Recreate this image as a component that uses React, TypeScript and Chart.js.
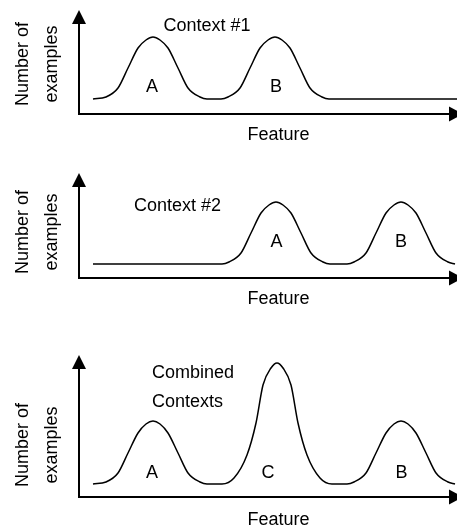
import React, { useEffect, useRef } from "react";
import { Chart, registerables } from "chart.js";

Chart.register(...registerables);

// ---- Data (feature units from the y-axis, "number of examples" units above the x-axis) ----
const FEATURE_MAX = 378;

// Panel 1: Context #1
const ctx1X = [14, 27, 39, 49, 59, 67, 74, 81, 89, 99, 109, 121, 128, 142, 149, 161, 171, 181, 189, 196, 203, 211, 221, 231, 243, 250, 378];
const ctx1Y = [15, 17, 26, 46, 66, 74, 77, 74, 66, 46, 26, 17, 15, 15, 17, 26, 46, 66, 74, 77, 74, 66, 46, 26, 17, 15, 15];

// Panel 2: Context #2
const ctx2X = [14, 143, 150, 162, 172, 182, 190, 197, 204, 212, 222, 232, 244, 251, 268, 275, 287, 297, 307, 315, 322, 329, 337, 347, 357, 369, 376];
const ctx2Y = [14, 14, 16, 25, 45, 65, 73, 76, 73, 65, 45, 25, 16, 14, 14, 16, 25, 45, 65, 73, 76, 73, 65, 45, 25, 16, 14];

// Panel 3: Combined contexts
const combX = [14, 27, 39, 49, 59, 67, 74, 81, 89, 99, 109, 121, 128, 143, 155, 168, 177, 184, 192, 198, 204, 212, 219, 228, 241, 253, 268, 275, 287, 297, 307, 315, 322, 329, 337, 347, 357, 369, 376];
const combY = [13, 15, 24, 44, 64, 73, 76, 73, 64, 44, 24, 15, 13, 13, 19, 42, 74, 112, 129, 134, 129, 112, 74, 42, 19, 13, 13, 15, 24, 44, 64, 73, 76, 73, 64, 44, 24, 15, 13];

// Text
const yTitle = ["Number of", "examples"];
const xTitle = "Feature";
const panel1Labels = ["Context #1", "A", "B"];
const panel2Labels = ["Context #2", "A", "B"];
const panel3Labels = ["Combined", "Contexts", "A", "C", "B"];

const FONT = '18px "Liberation Sans", Arial, sans-serif';

type Label = { text: string; x: number; y: number; align: CanvasTextAlign };

type PanelCfg = {
  top: number;
  height: number;
  padTop: number;
  padBottom: number;
  yMax: number;
  xs: number[];
  ys: number[];
  labels: Label[];
  yTitleCenter: number;
  xTitleY: number;
};

const panels: PanelCfg[] = [
  {
    top: 0, height: 150, padTop: 10, padBottom: 36, yMax: 104,
    xs: ctx1X, ys: ctx1Y,
    labels: [
      { text: panel1Labels[0], x: 128, y: 83.5, align: "center" },
      { text: panel1Labels[1], x: 73, y: 22, align: "center" },
      { text: panel1Labels[2], x: 197, y: 22, align: "center" },
    ],
    yTitleCenter: 50, xTitleY: -26,
  },
  {
    top: 150, height: 170, padTop: 23, padBottom: 42, yMax: 105,
    xs: ctx2X, ys: ctx2Y,
    labels: [
      { text: panel2Labels[0], x: 98.5, y: 67, align: "center" },
      { text: panel2Labels[1], x: 197.5, y: 31, align: "center" },
      { text: panel2Labels[2], x: 322, y: 31, align: "center" },
    ],
    yTitleCenter: 46, xTitleY: -26,
  },
  {
    top: 320, height: 209, padTop: 35, padBottom: 32, yMax: 142,
    xs: combX, ys: combY,
    labels: [
      { text: panel3Labels[0], x: 73, y: 119, align: "left" },
      { text: panel3Labels[1], x: 73, y: 90, align: "left" },
      { text: panel3Labels[2], x: 73, y: 19, align: "center" },
      { text: panel3Labels[3], x: 189, y: 19, align: "center" },
      { text: panel3Labels[4], x: 322.5, y: 19, align: "center" },
    ],
    yTitleCenter: 52, xTitleY: -28,
  },
];

const diagramPlugin = {
  id: "diagram",
  afterDatasetsDraw(chart: any, _args: any, opts: any) {
    const { ctx } = chart;
    const xs = chart.scales.x;
    const ys = chart.scales.y;
    const x0 = xs.getPixelForValue(0);
    const y0 = ys.getPixelForValue(0);
    const top = ys.getPixelForValue(ys.max);
    const right = xs.getPixelForValue(xs.max);
    ctx.save();
    ctx.strokeStyle = "#000";
    ctx.fillStyle = "#000";
    ctx.lineWidth = 2;
    // y axis
    ctx.beginPath();
    ctx.moveTo(x0, y0 + 1);
    ctx.lineTo(x0, top + 12);
    ctx.stroke();
    ctx.beginPath();
    ctx.moveTo(x0, top);
    ctx.lineTo(x0 - 7, top + 14);
    ctx.lineTo(x0 + 7, top + 14);
    ctx.closePath();
    ctx.fill();
    // x axis
    ctx.beginPath();
    ctx.moveTo(x0 - 1, y0);
    ctx.lineTo(right - 7, y0);
    ctx.stroke();
    ctx.beginPath();
    ctx.moveTo(right + 6, y0);
    ctx.lineTo(right - 8, y0 - 7.5);
    ctx.lineTo(right - 8, y0 + 7.5);
    ctx.closePath();
    ctx.fill();

    ctx.font = FONT;
    ctx.textBaseline = "alphabetic";
    for (const l of opts.labels as Label[]) {
      ctx.textAlign = l.align;
      ctx.fillText(l.text, xs.getPixelForValue(l.x), ys.getPixelForValue(l.y));
    }
    // x title
    ctx.textAlign = "center";
    ctx.fillText(xTitle, xs.getPixelForValue(199.5), ys.getPixelForValue(opts.xTitleY));
    // y title (rotated)
    const cy = ys.getPixelForValue(opts.yTitleCenter);
    const baselines = [x0 - 51, x0 - 22];
    yTitle.forEach((t, i) => {
      ctx.save();
      ctx.translate(baselines[i], cy);
      ctx.rotate(-Math.PI / 2);
      ctx.textAlign = "center";
      ctx.fillText(t, 0, 0);
      ctx.restore();
    });
    ctx.restore();
  },
};

function Panel({ cfg }: { cfg: PanelCfg }) {
  const ref = useRef<HTMLCanvasElement | null>(null);
  useEffect(() => {
    if (!ref.current) return;
    const chart = new Chart(ref.current, {
      type: "line",
      data: {
        datasets: [
          {
            data: cfg.xs.map((x, i) => ({ x, y: cfg.ys[i] })),
            borderColor: "#000",
            borderWidth: 1.5,
            pointRadius: 0,
            fill: false,
            cubicInterpolationMode: "monotone",
            clip: false as any,
          },
        ],
      },
      options: {
        responsive: false,
        animation: false,
        events: [],
        layout: { padding: { top: cfg.padTop, bottom: cfg.padBottom, left: 79, right: 0 } },
        scales: {
          x: { type: "linear", min: 0, max: FEATURE_MAX, display: false },
          y: { type: "linear", min: 0, max: cfg.yMax, display: false },
        },
        plugins: {
          legend: { display: false },
          tooltip: { enabled: false },
          diagram: { labels: cfg.labels, yTitleCenter: cfg.yTitleCenter, xTitleY: cfg.xTitleY },
        } as any,
      },
      plugins: [diagramPlugin],
    });
    return () => chart.destroy();
  }, [cfg]);
  return (
    <canvas
      ref={ref}
      width={457}
      height={cfg.height}
      style={{ position: "absolute", left: 0, top: cfg.top, width: 457, height: cfg.height, display: "block" }}
    />
  );
}

export default function App() {
  return (
    <div style={{ position: "fixed", left: 0, top: 0, width: 457, height: 529, background: "#fff", overflow: "hidden" }}>
      {panels.map((p, i) => (
        <Panel key={i} cfg={p} />
      ))}
    </div>
  );
}
